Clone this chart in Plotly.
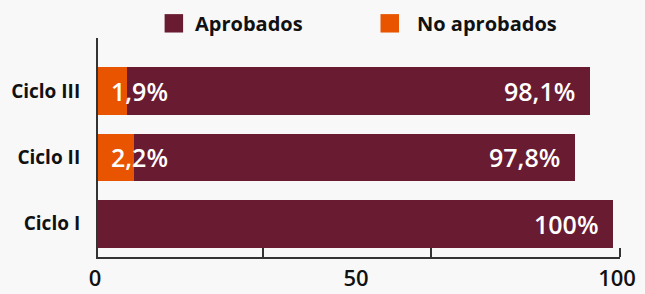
import plotly.graph_objects as go

# Data (bar lengths as drawn in the reference, with their printed labels)
categories = ["Ciclo I", "Ciclo II", "Ciclo III"]
no_aprobados = [0, 6.9, 5.6]
aprobados = [98.7, 84.5, 88.6]
no_aprobados_labels = ["", "2,2%", "1,9%"]
aprobados_labels = ["100%", "97,8%", "98,1%"]
series_names = ["Aprobados", "No aprobados"]
tick_vals = [0, 50, 100]
tick_text = ["0", "50", "100"]
inner_ticks = [31.6, 63.8, 100]

PURPLE = "#691b32"
ORANGE = "#e85400"
BG = "#f8f8f8"
FONT = "Open Sans"

fig = go.Figure()
fig.add_trace(go.Bar(y=categories, x=no_aprobados, orientation="h", name=series_names[1],
                     marker=dict(color=ORANGE, line=dict(width=0)), showlegend=False))
fig.add_trace(go.Bar(y=categories, x=aprobados, orientation="h", name=series_names[0],
                     marker=dict(color=PURPLE, line=dict(width=0)), showlegend=False))

annotations = []
for cat, n, a, nl, al in zip(categories, no_aprobados, aprobados, no_aprobados_labels, aprobados_labels):
    annotations.append(dict(x=n + a, y=cat, xref="x", yref="y", text=al, showarrow=False,
                            xanchor="right", yanchor="middle", xshift=-13,
                            font=dict(family=FONT, size=25, color="white", weight=600)))
    if nl:
        annotations.append(dict(x=0, y=cat, xref="x", yref="y", text=nl, showarrow=False,
                                xanchor="left", yanchor="middle", xshift=11,
                                font=dict(family=FONT, size=25, color="white", weight=600)))

# Custom legend
W, L = 522.0, 98.0
H, T = 220.0, 37.5
def px_x(p):
    return (p - L) / W
def px_y(p):
    return (T + H - p) / H

shapes = []
legend_items = [(series_names[0], PURPLE, 164.6, 193), (series_names[1], ORANGE, 380.5, 414.5)]
for name, col, sx, tx in legend_items:
    shapes.append(dict(type="rect", xref="paper", yref="paper",
                       x0=px_x(sx), x1=px_x(sx + 18.5), y0=px_y(32), y1=px_y(13.5),
                       fillcolor=col, line=dict(width=0)))
    annotations.append(dict(x=px_x(tx), y=px_y(23), xref="paper", yref="paper", text=name,
                            showarrow=False, xanchor="left", yanchor="middle",
                            font=dict(family=FONT, size=20, color="#111", weight=700)))

fig.update_layout(
    width=645, height=294,
    margin=dict(l=98, r=25, t=37.5, b=36.5, autoexpand=False),
    paper_bgcolor=BG, plot_bgcolor=BG,
    barmode="stack", bargap=0.28,
    showlegend=False,
    annotations=annotations,
    shapes=shapes,
    xaxis=dict(range=[0, 100], showgrid=False, zeroline=False, automargin=False,
               showline=True, linecolor="#333", linewidth=2,
               tickvals=tick_vals, ticktext=tick_text,
               ticks="outside", ticklen=1, tickcolor="rgba(0,0,0,0)",
               ticklabelshift=-3,
               tickfont=dict(family=FONT, size=22, color="#111", weight=600),
               minor=dict(tickvals=inner_ticks, ticks="inside", ticklen=9,
                          tickwidth=2, tickcolor="#333"),
               fixedrange=True),
    yaxis=dict(range=[-0.5, 2.8], showgrid=False, zeroline=False, automargin=False,
               showline=True, linecolor="#333", linewidth=2,
               ticks="outside", ticklen=12, tickcolor="rgba(0,0,0,0)",
               tickfont=dict(family=FONT, size=19, color="#111", weight=700),
               fixedrange=True),
)

fig.write_html("out.html", config={"displayModeBar": False},
               post_script="document.body.style.margin='0';document.body.style.background='%s';" % BG)
